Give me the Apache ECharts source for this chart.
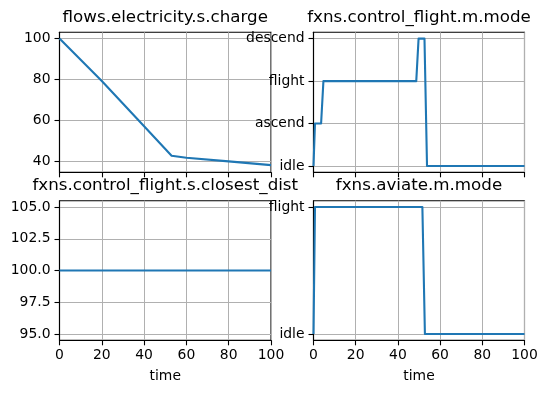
<!DOCTYPE html>
<html>
<head>
<meta charset="utf-8">
<script src="https://cdn.jsdelivr.net/npm/echarts@6/dist/echarts.min.js"></script>
<style>html,body{margin:0;padding:0;background:#fff}#c{width:547px;height:393px}</style>
</head>
<body>
<div id="c"></div>
<script>
// ---- data ----
var titles = ['flows.electricity.s.charge', 'fxns.control_flight.m.mode', 'fxns.control_flight.s.closest_dist', 'fxns.aviate.m.mode'];
var xTicks = [0, 20, 40, 60, 80, 100];

var chargeTime = [0, 20, 40, 53, 60, 80, 100];
var chargeValue = [100, 79.3, 57.2, 42.9, 41.9, 40.1, 38.3];
var chargeTicks = [40, 60, 80, 100];

var controlModes = ['idle', 'ascend', 'flight', 'descend'];
var controlTime = [0, 0.7, 3.6, 4.7, 48.7, 49.8, 52.6, 53.8, 100];
var controlMode = ['idle', 'ascend', 'ascend', 'flight', 'flight', 'descend', 'descend', 'idle', 'idle'];

var distTime = [0, 100];
var distValue = [100, 100];
var distTicks = [95, 97.5, 100, 102.5, 105];

var aviateModes = ['idle', 'flight'];
var aviateTime = [0, 0.7, 51.6, 52.8, 100];
var aviateMode = ['idle', 'flight', 'flight', 'idle', 'idle'];

// ---- chart ----
var FONT = 'DejaVu Sans';
var TICK_FS = 13.9, TITLE_FS = 16.7;
var LINE = '#1f77b4';
var grids = [
  {left: 59.5, top: 32.3, width: 211.5, height: 140},
  {left: 313.5, top: 32.3, width: 211, height: 140},
  {left: 59.5, top: 200.7, width: 211.5, height: 139.6},
  {left: 313.5, top: 200.7, width: 211, height: 139.6}
];
var ch = echarts.init(document.getElementById('c'), null, {renderer: 'canvas'});

function zip(ts, vs) { return ts.map(function (t, i) { return [t, vs[i]]; }); }
function idx(list, cats) { return list.map(function (m) { return cats.indexOf(m); }); }

function xAxis(i, labels) {
  return {
    type: 'value', gridIndex: i, min: 0, max: 100, interval: 20,
    name: labels ? 'time' : '', nameLocation: 'middle', nameGap: 29,
    nameTextStyle: {fontFamily: FONT, fontSize: TICK_FS, color: '#000'},
    axisLine: {show: true, onZero: false, lineStyle: {color: '#000', width: 1.1}},
    axisTick: {show: true, length: 5, lineStyle: {color: '#000', width: 1.1}},
    axisLabel: {show: labels, margin: 8, fontFamily: FONT, fontSize: TICK_FS, color: '#000'},
    splitLine: {show: true, lineStyle: {color: '#b0b0b0', width: 1}}
  };
}
function yAxis(i, min, max, ticks, fmt) {
  return {
    type: 'value', gridIndex: i, min: min, max: max,
    axisLine: {show: true, onZero: false, lineStyle: {color: '#000', width: 1.1}},
    axisTick: {show: true, length: 5, customValues: ticks, lineStyle: {color: '#000', width: 1.1}},
    axisLabel: {show: true, margin: 9, customValues: ticks, formatter: fmt, fontFamily: FONT, fontSize: TICK_FS, color: '#000'},
    splitLine: {show: true, lineStyle: {color: '#b0b0b0', width: 1}}
  };
}

var option = {
  animation: false,
  backgroundColor: '#fff',
  title: titles.map(function (t, i) {
    var g = grids[i];
    return {
      text: t, left: g.left + g.width / 2, top: g.top - 23.5, textAlign: 'center', padding: 0,
      textStyle: {fontFamily: FONT, fontSize: TITLE_FS, fontWeight: 'normal', color: '#000'}
    };
  }),
  grid: grids.map(function (g) {
    return {left: g.left, top: g.top, width: g.width, height: g.height, show: true, borderColor: '#000', borderWidth: 1.1, backgroundColor: 'transparent'};
  }),
  xAxis: [xAxis(0, false), xAxis(1, false), xAxis(2, true), xAxis(3, true)],
  yAxis: [
    yAxis(0, 34.8, 103.0, chargeTicks, function (v) { return String(v); }),
    yAxis(1, -0.15, 3.15, [0, 1, 2, 3], function (v) { return controlModes[Math.round(v)]; }),
    yAxis(2, 94.5, 105.5, distTicks, function (v) { return v.toFixed(1); }),
    yAxis(3, -0.05, 1.05, [0, 1], function (v) { return aviateModes[Math.round(v)]; })
  ],
  series: [
    {type: 'line', xAxisIndex: 0, yAxisIndex: 0, data: zip(chargeTime, chargeValue)},
    {type: 'line', xAxisIndex: 1, yAxisIndex: 1, data: zip(controlTime, idx(controlMode, controlModes))},
    {type: 'line', xAxisIndex: 2, yAxisIndex: 2, data: zip(distTime, distValue)},
    {type: 'line', xAxisIndex: 3, yAxisIndex: 3, data: zip(aviateTime, idx(aviateMode, aviateModes))}
  ].map(function (s) {
    s.showSymbol = false; s.symbol = 'none'; s.silent = true;
    s.lineStyle = {color: LINE, width: 2.1, join: 'round', cap: 'butt'};
    s.itemStyle = {color: LINE};
    return s;
  })
};
ch.setOption(option);
</script>
</body>
</html>
